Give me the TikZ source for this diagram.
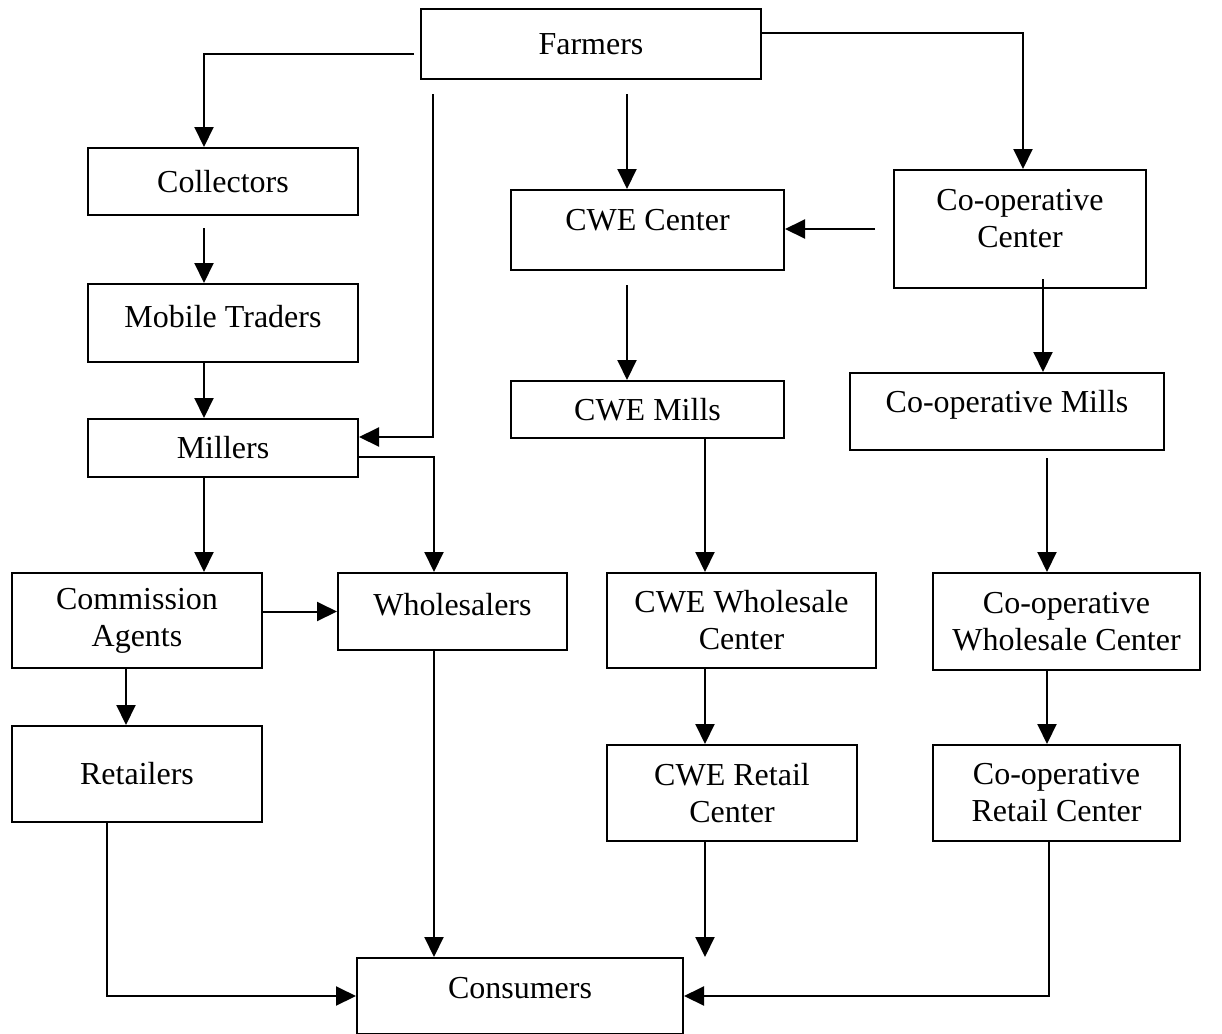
\documentclass[tikz,border=0pt]{standalone}
\usepackage{fontspec}
\setmainfont{Liberation Serif}
\usetikzlibrary{arrows.meta}

\begin{document}
\begin{tikzpicture}[x=0.5pt,y=-0.5pt,
font=\fontsize{16}{18.5}\selectfont,
>={Triangle[length=10pt,width=9.5pt]},
box/.style={draw, line width=1pt, inner sep=0pt, align=center},
link/.style={->, line width=1pt}]

\useasboundingbox (0,0) rectangle (1222,1034);

% private channel
\node[box, minimum width=170pt, minimum height=35pt] at (591,44) (farmers) {Farmers};
\node[box, minimum width=135pt, minimum height=33.5pt] at (223,181.5) (collectors) {Collectors};
\node[box, minimum width=135pt, minimum height=39pt, text depth=7pt] at (223,323) (traders) {Mobile Traders};
\node[box, minimum width=135pt, minimum height=29pt] at (223,448) (millers) {Millers};
\node[box, minimum width=125pt, minimum height=47.5pt] at (137,620.5) (agents) {Commission\\ Agents};
\node[box, minimum width=114.5pt, minimum height=38.5pt, text depth=7pt] at (452.5,611.5) (wholesalers) {Wholesalers};
\node[box, minimum width=125pt, minimum height=48pt] at (137,774) (retailers) {Retailers};

% CWE channel
\node[box, minimum width=136.5pt, minimum height=40pt, text depth=10pt] at (647.5,230) (cwecenter) {CWE Center};
\node[box, minimum width=136.5pt, minimum height=28.5pt] at (647.5,409.5) (cwemills) {CWE Mills};
\node[box, minimum width=134.5pt, minimum height=47.5pt] at (741.5,620.5) (cwewholesale) {CWE Wholesale\\ Center};
\node[box, minimum width=125pt, minimum height=48pt] at (732,793) (cweretail) {CWE Retail\\ Center};

% co-operative channel
\node[box, minimum width=126pt, minimum height=59pt, text depth=10.5pt] at (1020,229) (coopcenter) {Co-operative\\ Center};
\node[box, minimum width=157pt, minimum height=38.5pt, text depth=10.5pt] at (1007,411.5) (coopmills) {Co-operative Mills};
\node[box, minimum width=133.5pt, minimum height=48.5pt] at (1066.5,621.5) (coopwholesale) {Co-operative\\ Wholesale Center};
\node[box, minimum width=123.5pt, minimum height=48pt] at (1056.5,793) (coopretail) {Co-operative\\ Retail Center};

\node[box, minimum width=163pt, minimum height=38pt, text depth=8pt] at (520,996) (consumers) {Consumers};

% links from farmers
\draw[link] ([xshift=-3pt,yshift=-5pt]farmers.west) -| ([xshift=-9.5pt]collectors.north);
\draw[link] ([xshift=-79pt,yshift=-7pt]farmers.south) |- ([yshift=5.5pt]millers.east);
\draw[link] ([xshift=18pt,yshift=-7pt]farmers.south) -- ([xshift=-10.25pt]cwecenter.north);
\draw[link] ([yshift=5.5pt]farmers.east) -| ([xshift=1.5pt]coopcenter.north);

% private channel
\draw[link] ([xshift=-9.5pt,yshift=-6pt]collectors.south) -- ([xshift=-9.5pt]traders.north);
\draw[link] ([xshift=-9.5pt]traders.south) -- ([xshift=-9.5pt]millers.north);
\draw[link] ([xshift=-9.5pt]millers.south) -- ([xshift=33.5pt]agents.north);
\draw[link] ([yshift=-4.5pt]millers.east) -| ([xshift=-9.25pt]wholesalers.north);
\draw[link] (agents.east |- wholesalers.west) -- (wholesalers.west);
\draw[link] ([xshift=-5.5pt]agents.south) -- ([xshift=-5.5pt]retailers.north);
\draw[link] ([xshift=-15pt]retailers.south) |- (consumers.west);
\draw[link] ([xshift=-9.25pt]wholesalers.south) -- ([xshift=-43pt]consumers.north);

% CWE channel
\draw[link] ([xshift=-9pt]coopcenter.west) -- (cwecenter.east |- coopcenter.west);
\draw[link] ([xshift=-10.25pt,yshift=-7pt]cwecenter.south) -- ([xshift=-10.25pt]cwemills.north);
\draw[link] ([xshift=28.75pt]cwemills.south) -- ([xshift=-18.25pt]cwewholesale.north);
\draw[link] ([xshift=-18.25pt]cwewholesale.south) -- ([xshift=-13.5pt]cweretail.north);
\draw[link] ([xshift=-13.5pt]cweretail.south) -- ([xshift=92.5pt]consumers.north);

% co-operative channel
\draw[link] ([xshift=11.5pt,yshift=5pt]coopcenter.south) -- ([xshift=18pt]coopmills.north);
\draw[link] ([xshift=20pt,yshift=-3.5pt]coopmills.south) -- ([xshift=-9.75pt]coopwholesale.north);
\draw[link] ([xshift=-9.75pt]coopwholesale.south) -- ([xshift=-4.75pt]coopretail.north);
\draw[link] ([xshift=-3.75pt]coopretail.south) |- (consumers.east);
\end{tikzpicture}
\end{document}
